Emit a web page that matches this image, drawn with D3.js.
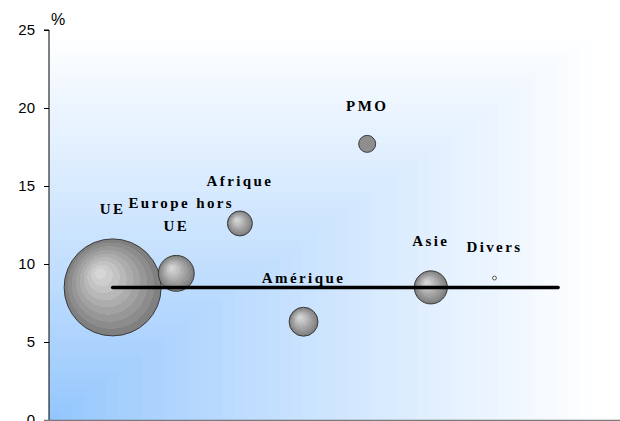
<!DOCTYPE html>
<html>
<head>
<meta charset="utf-8">
<script src="https://cdn.jsdelivr.net/npm/d3@7/dist/d3.min.js"></script>
<style>
  html, body { margin: 0; padding: 0; background: #ffffff; }
  svg { display: block; }
</style>
</head>
<body>
<div id="chart"></div>
<script>
// ---- Data ----
const categories = ["UE", "Europe hors UE", "Afrique", "Amérique", "PMO", "Asie", "Divers"];
const categoryIndex = [1, 2, 3, 4, 5, 6, 7];
const rates = [8.5, 9.4, 12.6, 6.3, 17.7, 8.5, 9.1];       // % (y values)
const weights = [62.0, 8.5, 4.1, 5.5, 1.9, 7.2, 0.1];       // bubble sizes
const averageLine = { from: 1, to: 8, value: 8.5 };
const yTicks = [0, 5, 10, 15, 20, 25];
const yUnit = "%";

// ---- Layout ----
const W = 620, H = 421;
const plot = { left: 49, right: 602, top: 30, bottom: 420 };

const svg = d3.select("#chart").append("svg")
  .attr("width", W).attr("height", H);

const x = d3.scaleLinear().domain([0, 8.69]).range([plot.left, plot.right]);
const y = d3.scaleLinear().domain([0, 25]).range([plot.bottom, plot.top]);
const r = d3.scaleSqrt().domain([0, d3.max(weights)]).range([0, 48.5]);

const defs = svg.append("defs");

// Stepped radial gradient for the bubbles
const grad = defs.append("radialGradient").attr("id", "bub")
  .attr("cx", 0.5).attr("cy", 0.5).attr("r", 0.5)
  .attr("fx", 0.36).attr("fy", 0.34);
const bandColors = ["#d6d6d6", "#cdcdcd", "#c3c3c3", "#b8b8b8", "#adadad", "#a2a2a2", "#979797", "#8c8c8c", "#808080"];
bandColors.forEach((c, i) => {
  grad.append("stop").attr("offset", i / bandColors.length).attr("stop-color", c);
  grad.append("stop").attr("offset", (i + 1) / bandColors.length).attr("stop-color", c);
});

// Plot background: "from corner" rectangular gradient (blue bottom-left -> white)
const bgColor = d3.interpolateRgb("#94c6fd", "#ffffff");
const N = 48;
const pw = plot.right - plot.left, ph = plot.bottom - plot.top;
for (let i = N; i >= 1; i--) {
  const t = i / N;
  svg.append("rect")
    .attr("x", plot.left)
    .attr("y", plot.bottom - ph * t)
    .attr("width", pw * t)
    .attr("height", ph * t)
    .attr("fill", bgColor(Math.pow((i - 1) / (N - 1), 0.9)));
}

// Y axis
const yAxis = d3.axisLeft(y).tickValues(yTicks).tickSize(5).tickPadding(9);
const gy = svg.append("g").attr("transform", `translate(${plot.left},0)`).call(yAxis);
gy.select(".domain").attr("stroke", "#000").attr("d", `M-5,${y(25)}H0V${plot.bottom}`);
gy.selectAll(".tick line").attr("stroke", "#000");
gy.selectAll(".tick text")
  .attr("fill", "#000")
  .style("font-family", "'Liberation Sans', Arial, sans-serif")
  .style("font-size", "15px");

svg.append("text")
  .attr("x", 51).attr("y", 25)
  .style("font-family", "'Liberation Sans', Arial, sans-serif")
  .style("font-size", "16px")
  .attr("fill", "#000")
  .text(yUnit);

// X axis line
svg.append("line")
  .attr("x1", plot.left - 5).attr("x2", W)
  .attr("y1", plot.bottom + 0.5).attr("y2", plot.bottom + 0.5)
  .attr("stroke", "#7a7a7a").attr("stroke-width", 1.5);

// Bubbles
const data = categories.map((c, i) => ({
  name: c, xi: categoryIndex[i], v: rates[i], w: weights[i]
}));

svg.append("g").selectAll("circle").data(data).enter().append("circle")
  .attr("cx", d => x(d.xi))
  .attr("cy", d => y(d.v))
  .attr("r", d => r(d.w))
  .attr("fill", d => r(d.w) < 5 ? "#ffffff" : (r(d.w) < 10 ? "#8e8e8e" : "url(#bub)"))
  .attr("stroke", d => r(d.w) < 5 ? "#555" : "#3a3a3a")
  .attr("stroke-width", 1);

// Labels
const lbl = svg.append("g")
  .style("font-family", "'Liberation Serif', 'Times New Roman', serif")
  .style("font-weight", "bold")
  .style("font-size", "15px")
  .style("letter-spacing", "2.4px")
  .attr("fill", "#000")
  .attr("text-anchor", "middle");

data.forEach(d => {
  const cx = x(d.xi), top = y(d.v) - r(d.w);
  const baseY = top - 24.5;
  if (d.name === "Europe hors UE") {
    lbl.append("text").attr("x", cx + 5).attr("y", baseY - 23).text("Europe hors");
    lbl.append("text").attr("x", cx).attr("y", baseY).text("UE");
  } else {
    lbl.append("text").attr("x", cx).attr("y", baseY).text(d.name);
  }
});

// Average line
svg.append("line")
  .attr("x1", x(averageLine.from)).attr("x2", x(averageLine.to))
  .attr("y1", y(averageLine.value)).attr("y2", y(averageLine.value))
  .attr("stroke", "#000").attr("stroke-width", 3.5)
  .attr("stroke-linecap", "round");
</script>
</body>
</html>
